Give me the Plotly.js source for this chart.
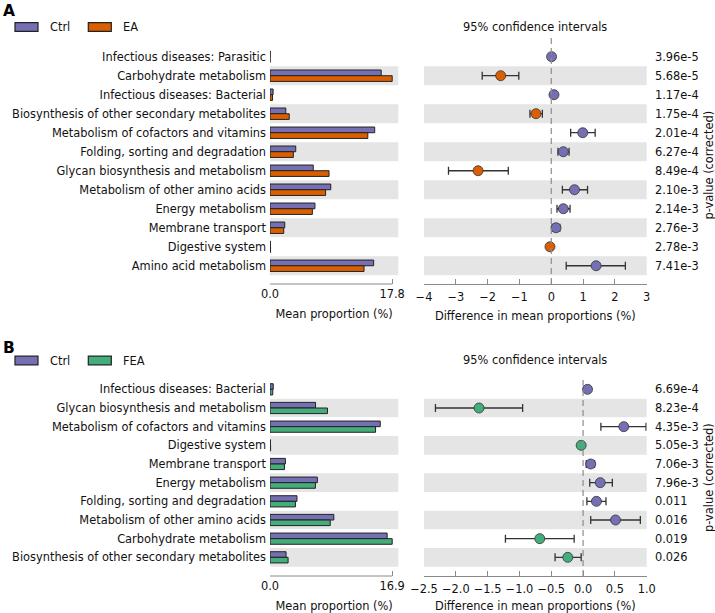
<!DOCTYPE html>
<html><head><meta charset="utf-8">
<script src="https://cdn.plot.ly/plotly-3.0.1.min.js"></script>
<style>html,body{margin:0;padding:0;background:#fff}#chart{width:715px;height:613px}</style>
</head><body><div id="chart"></div>
<script>
// ---------- Panel A: Ctrl vs EA ----------
const catsA = ['Infectious diseases: Parasitic','Carbohydrate metabolism','Infectious diseases: Bacterial',
  'Biosynthesis of other secondary metabolites','Metabolism of cofactors and vitamins','Folding, sorting and degradation',
  'Glycan biosynthesis and metabolism','Metabolism of other amino acids','Energy metabolism','Membrane transport',
  'Digestive system','Amino acid metabolism'];
const ctrlA = [0.03, 16.2, 0.45, 2.3, 15.25, 3.75, 6.3, 8.85, 6.55, 2.15, 0.05, 15.1];
const eaA   = [0.01, 17.8, 0.37, 2.8, 14.25, 3.4, 8.6, 8.1, 6.17, 2.0, 0.08, 13.7];
const diffA = [0.01, -1.59, 0.085, -0.48, 0.99, 0.38, -2.3, 0.73, 0.38, 0.15, -0.04, 1.41];
const loA   = [0.0, -2.17, 0.05, -0.67, 0.61, 0.21, -3.23, 0.35, 0.18, 0.03, -0.07, 0.47];
const hiA   = [0.02, -1.02, 0.12, -0.28, 1.38, 0.56, -1.35, 1.14, 0.59, 0.27, -0.01, 2.33];
const pA    = ['3.96e-5','5.68e-5','1.17e-4','1.75e-4','2.01e-4','6.27e-4','8.49e-4','2.10e-3','2.14e-3','2.76e-3','2.78e-3','7.41e-3'];
const ciTicksA = [-4,-3,-2,-1,0,1,2,3];

// ---------- Panel B: Ctrl vs FEA ----------
const catsB = ['Infectious diseases: Bacterial','Glycan biosynthesis and metabolism','Metabolism of cofactors and vitamins',
  'Digestive system','Membrane transport','Energy metabolism','Folding, sorting and degradation',
  'Metabolism of other amino acids','Carbohydrate metabolism','Biosynthesis of other secondary metabolites'];
const ctrlB = [0.45, 6.3, 15.25, 0.05, 2.13, 6.55, 3.73, 8.83, 16.2, 2.22];
const feaB  = [0.38, 7.95, 14.6, 0.08, 2.0, 6.28, 3.52, 8.33, 16.9, 2.5];
const diffB = [0.07, -1.635, 0.64, -0.03, 0.12, 0.27, 0.21, 0.51, -0.68, -0.24];
const loB   = [0.04, -2.32, 0.28, -0.05, 0.05, 0.105, 0.06, 0.12, -1.22, -0.44];
const hiB   = [0.10, -0.95, 0.99, -0.01, 0.18, 0.46, 0.36, 0.90, -0.14, -0.03];
const pB    = ['6.69e-4','8.23e-4','4.35e-3','5.05e-3','7.06e-3','7.96e-3','0.011','0.016','0.019','0.026'];
const ciTicksB = [-2.5,-2.0,-1.5,-1.0,-0.5,0.0,0.5,1.0];

const groupNamesA = ['Ctrl','EA'];
const groupNamesB = ['Ctrl','FEA'];

// ---------- styling ----------
const C_CTRL = '#7570b3', C_EA = '#d95f02', C_FEA = '#43ad7b';
const FONT = 'DejaVu Sans, Verdana, sans-serif';
const FS = 11.4;
const TXT = '#111';
const SPINE = '#8a8a8a';
const BAND = '#e5e5e5';
const W = 715, H = 613;
const px = v => v / W;
const py = v => 1 - v / H;

function idx(n){ return Array.from({length:n}, (_, i) => i); }
function fmtTick(v, d){ const s = Math.abs(v).toFixed(d); return (v < 0 ? '\u2212' : '') + s; }

const traces = [];
const shapes = [];
const annotations = [];
const layout = {
  width: W, height: H, margin: {l:0, r:0, t:0, b:0},
  paper_bgcolor: '#fff', plot_bgcolor: 'rgba(0,0,0,0)',
  showlegend: false, barmode: 'group', bargap: 0.4, bargroupgap: 0,
  font: {family: FONT, size: FS, color: TXT},
  shapes: shapes, annotations: annotations
};

function panel(o){
  const n = o.cats.length;
  const ys = idx(n);
  const xb = 'x' + o.bx, yb = 'y' + o.bx, xc = 'x' + o.cx, yc = 'y' + o.cx;
  const xbName = 'xaxis' + o.bx, ybName = 'yaxis' + o.bx, xcName = 'xaxis' + o.cx, ycName = 'yaxis' + o.cx;
  const maxV = Math.max(...o.ctrl, ...o.trt);
  const yrange = [n - 0.5 + o.pad, -0.5];

  // bars
  traces.push({type:'bar', orientation:'h', x:o.ctrl, y:ys, xaxis:xb, yaxis:yb, name:o.names[0],
    marker:{color:C_CTRL, line:{color:'#222', width:1}}, hoverinfo:'x'});
  traces.push({type:'bar', orientation:'h', x:o.trt, y:ys, xaxis:xb, yaxis:yb, name:o.names[1],
    marker:{color:o.tcol, line:{color:'#222', width:1}}, hoverinfo:'x'});

  // CI points
  const cols = o.diff.map(d => d > 0 ? C_CTRL : o.tcol);
  traces.push({type:'scatter', mode:'markers', x:o.diff, y:ys, xaxis:xc, yaxis:yc,
    marker:{size:10, color:cols, line:{color:'#333', width:0.8}},
    error_x:{type:'data', symmetric:false,
      array:o.diff.map((d,i) => o.hi[i] - d), arrayminus:o.diff.map((d,i) => d - o.lo[i]),
      color:'#333', thickness:1.3, width:4}, hoverinfo:'x'});

  layout[xbName] = {domain:[px(270), px(398.3)], range:[0, maxV*1.05], anchor:yb,
    tickvals:[0, maxV], ticktext:['0.0', maxV.toFixed(1)], ticks:'inside', ticklen:5, tickcolor:SPINE,
    ticklabelstandoff:2,
    showline:false, showgrid:false, zeroline:false, tickfont:{size:FS, color:TXT},
    title:{text:'Mean proportion (%)', font:{size:FS, color:TXT}, standoff:9}};
  layout[ybName] = {domain:o.ydom, range:yrange, anchor:xb, tickvals:ys, ticktext:o.cats,
    ticks:'', ticklabelstandoff:3, showline:false, showgrid:false, zeroline:false, tickfont:{size:FS, color:TXT}};
  layout[xcName] = {domain:[px(424), px(646.7)], range:[o.ciTicks[0], o.ciTicks[o.ciTicks.length-1]], anchor:yc,
    tickvals:o.ciTicks, ticktext:o.ciTicks.map(v => fmtTick(v, o.dec)), ticks:'inside', ticklen:5, tickcolor:SPINE,
    ticklabelstandoff:2,
    showline:true, linecolor:SPINE, linewidth:1, showgrid:false, zeroline:false, tickfont:{size:FS, color:TXT},
    title:{text:'Difference in mean proportions (%)', font:{size:FS, color:TXT}, standoff:9}};
  layout[ycName] = {domain:o.ydom, range:yrange, anchor:xc, showticklabels:false, ticks:'',
    showline:false, showgrid:false, zeroline:false};

  // alternating bands
  ys.forEach(i => {
    if (i % 2 === 1) {
      [[xb,yb],[xc,yc]].forEach(([xa,ya]) => shapes.push({type:'rect', xref:xa+' domain', yref:ya,
        x0:0, x1:1, y0:i-0.5, y1:i+0.5, fillcolor:BAND, line:{width:0}, layer:'below'}));
    }
  });
  // bar spine limited to tick span
  shapes.push({type:'line', xref:xb, yref:yb+' domain', x0:0, x1:maxV, y0:0, y1:0, line:{color:SPINE, width:1}});
  // dashed zero line
  shapes.push({type:'line', xref:xc, yref:yc+' domain', x0:0, x1:0, y0:0, y1:o.zeroTop,
    line:{color:'#8c8c8c', width:1.2, dash:'6px,4px'}});

  // p-values
  o.p.forEach((t,i) => annotations.push({xref:'paper', yref:yc, x:px(652.5), y:i, xanchor:'left', yanchor:'middle',
    text:t, showarrow:false, font:{size:FS, color:TXT}}));
  annotations.push({xref:'paper', yref:'paper', x:px(709), y:(o.ydom[0]+o.ydom[1])/2 + o.pvOff, xanchor:'center', yanchor:'middle',
    text:'p-value (corrected)', textangle:-90, showarrow:false, font:{size:FS, color:TXT}});
  // CI title
  annotations.push({xref:'paper', yref:'paper', x:px(535.3), y:py(o.ciTitleY), xanchor:'center', yanchor:'middle',
    text:'95% confidence intervals', showarrow:false, font:{size:FS, color:TXT}});
  // panel letter
  annotations.push({xref:'paper', yref:'paper', x:px(1), y:py(o.letterY), xanchor:'left', yanchor:'middle',
    text:'<b>'+o.letter+'</b>', showarrow:false, font:{size:15.5, color:'#000'}});
  // legend
  const legItems = [[o.names[0], C_CTRL, 15, 47.5], [o.names[1], o.tcol, 88.3, 120.7]];
  legItems.forEach(([name, col, x0, tx]) => {
    shapes.push({type:'rect', xref:'paper', yref:'paper', x0:px(x0), x1:px(x0+23), y0:py(o.legY+4.3), y1:py(o.legY-4.3),
      fillcolor:col, line:{color:'#222', width:1.2}});
    annotations.push({xref:'paper', yref:'paper', x:px(tx), y:py(o.legY), xanchor:'left', yanchor:'middle',
      text:name, showarrow:false, font:{size:FS, color:TXT}});
  });
}

panel({letter:'A', cats:catsA, ctrl:ctrlA, trt:eaA, diff:diffA, lo:loA, hi:hiA, p:pA, ciTicks:ciTicksA, dec:0,
  names:groupNamesA, tcol:C_EA, bx:'', cx:'2', ydom:[py(284), py(47.2)], pad:0.46, zeroTop:1.04,
  ciTitleY:27, letterY:10.5, legY:27, pvOff:0.0});
panel({letter:'B', cats:catsB, ctrl:ctrlB, trt:feaB, diff:diffB, lo:loB, hi:hiB, p:pB, ciTicks:ciTicksB, dec:1,
  names:groupNamesB, tcol:C_FEA, bx:'3', cx:'4', ydom:[py(576), py(380)], pad:0.5, zeroTop:1.0,
  ciTitleY:360, letterY:347.5, legY:360.5, pvOff:0.0});

Plotly.newPlot('chart', traces, layout, {staticPlot:true});
</script>
</body></html>
